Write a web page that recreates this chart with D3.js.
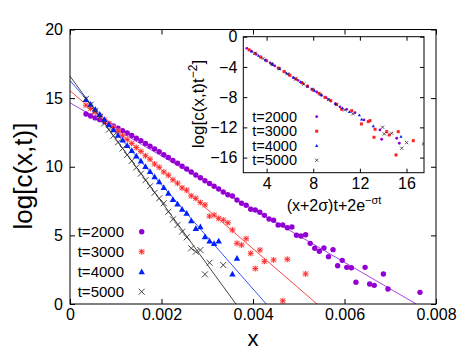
<!DOCTYPE html>
<html><head><meta charset="utf-8">
<script src="https://cdn.jsdelivr.net/npm/d3@7"></script>
<style>
html,body{margin:0;padding:0;background:#fff;}
svg text{font-family:"Liberation Sans",Arial,sans-serif;fill:#000;}
</style></head>
<body><svg id="c" width="463" height="354"></svg>
<script>
// ---------- main plot data ----------
const t2000_x = [0.00035,0.00045,0.00055,0.00065,0.00075,0.00085,0.00095,0.00105,0.00115,0.00125,0.00135,0.00145,0.00155,0.00165,0.00175,0.00185,0.00195,0.00205,0.00215,0.00225,0.00235,0.00245,0.00255,0.00265,0.00275,0.00285,0.00295,0.00305,0.00315,0.00325,0.00335,0.00345,0.00355,0.00365,0.00375,0.00385,0.00395,0.00405,0.00415,0.00425,0.00435,0.00445,0.00455,0.00465,0.00475,0.00485,0.00495,0.00505,0.00515,0.00525,0.00535,0.00545,0.00555,0.00565,0.00575,0.00585,0.00595,0.00605,0.00615,0.00625,0.00645,0.00655,0.00665,0.00685,0.00695,0.00765];
const t2000_y = [13.84,13.70,13.56,13.43,13.30,13.14,12.98,12.80,12.63,12.46,12.28,12.08,11.90,11.70,11.50,11.30,11.10,10.88,10.68,10.46,10.26,10.04,9.84,9.62,9.40,9.20,8.98,8.78,8.58,8.38,8.16,7.96,7.87,7.58,7.34,7.19,6.90,6.85,6.68,6.46,6.19,6.10,5.76,5.76,5.56,5.61,5.01,4.95,5.05,4.42,4.06,3.84,4.08,3.45,3.96,2.79,3.18,2.67,2.64,1.58,2.67,1.46,1.36,2.19,1.09,0.85,1.22];
const t3000_x = [0.00035,0.00045,0.00055,0.00065,0.00075,0.00085,0.00095,0.00105,0.00115,0.00125,0.00135,0.00145,0.00155,0.00165,0.00175,0.00185,0.00195,0.00205,0.00215,0.00225,0.00235,0.00245,0.00255,0.00265,0.00275,0.00285,0.00295,0.00305,0.00315,0.00325,0.00335,0.00345,0.00355,0.00365,0.00375,0.00385,0.00395,0.00405,0.00415,0.00425,0.00445,0.00465,0.00475,0.00515];
const t3000_y = [14.48,14.25,13.98,13.72,13.42,13.15,12.86,12.58,12.25,11.99,11.70,11.40,11.12,10.80,10.55,10.20,9.96,9.62,9.38,9.05,8.80,8.46,8.30,7.88,7.70,7.40,7.22,6.40,6.48,6.24,6.12,5.92,5.39,4.42,4.30,4.76,3.69,2.58,3.93,3.11,3.21,0.23,3.26,2.19];
const t4000_x = [0.00035,0.00045,0.00055,0.00065,0.00075,0.00085,0.00095,0.00105,0.00115,0.00125,0.00135,0.00145,0.00155,0.00165,0.00175,0.00185,0.00195,0.00205,0.00215,0.00225,0.00235,0.00245,0.00255,0.00265,0.00275,0.00285,0.00295,0.00305,0.00315,0.00325,0.00355,0.00365];
const t4000_y = [14.90,14.55,14.20,13.82,13.45,13.06,12.70,12.30,11.95,11.55,11.18,10.78,10.42,10.03,9.65,9.28,8.91,8.50,8.07,7.62,7.29,6.90,6.61,6.07,5.51,5.63,4.90,4.59,4.42,4.59,2.19,3.33];
const t5000_x = [0.00035,0.00045,0.00055,0.00065,0.00075,0.00085,0.00095,0.00105,0.00115,0.00125,0.00135,0.00145,0.00155,0.00165,0.00175,0.00185,0.00195,0.00205,0.00215,0.00225,0.00235,0.00245,0.00255,0.00265,0.00275,0.00285,0.00295,0.00305,0.00335];
const t5000_y = [14.95,14.52,14.06,13.62,13.16,12.70,12.26,11.78,11.33,10.86,10.43,9.95,9.50,9.02,8.58,8.11,7.70,7.34,6.72,6.17,5.76,5.27,4.86,4.06,3.81,3.93,2.16,3.01,2.84];

// fitted straight lines: log c = intercept + slope * x
const fitIntercept = [14.66, 15.54, 16.27, 16.60];
const fitSlope = [-1937, -2878, -3793, -4576];

const seriesNames = ["t=2000","t=3000","t=4000","t=5000"];
const colors = ["#9400d3","#ff2020","#0020ff","#303030"];
const lineColors = ["#a030e0","#ff3030","#2040ff","#303030"];

const xTicks = [0,0.002,0.004,0.006,0.008];
const yTicks = [0,5,10,15,20];

// ---------- inset data ----------
const in2000_X = [2.3,2.7,3.1,3.5,3.9,4.3,4.7,5.1,5.5,5.9,6.3,6.7,7.1,7.5,7.9,8.3,8.7,9.1,9.5,9.9,10.3,10.87,11.58,12.35,13.72,13.87,15.16,15.38];
const in2000_Y = [-1.54,-1.92,-2.32,-2.69,-3.09,-3.46,-3.87,-4.23,-4.64,-5.00,-5.41,-5.78,-6.18,-6.55,-6.95,-7.32,-7.74,-8.08,-8.52,-8.85,-9.30,-9.61,-10.05,-11.02,-12.34,-13.57,-13.44,-14.10];
const in3000_X = [2.5,3.0,3.5,4.0,4.5,5.0,5.5,6.0,6.5,7.0,7.5,8.0,8.5,9.0,9.5,10.0,10.44,11.30,12.13,12.72,12.87,13.30,13.21,14.30,14.52,15.29,15.10,16.58];
const in3000_Y = [-1.74,-2.21,-2.71,-3.18,-3.66,-4.15,-4.62,-5.11,-5.58,-6.07,-6.55,-7.05,-7.50,-8.02,-8.45,-8.96,-9.61,-9.79,-11.55,-11.24,-11.11,-12.25,-13.31,-12.57,-13.00,-12.57,-15.65,-13.76];
const in4000_X = [2.7,3.3,3.9,4.5,5.1,5.7,6.3,6.9,7.5,8.1,8.7,9.3,9.9,10.5,11.1,11.95,12.15,13.15,15.53];
const in4000_Y = [-1.93,-2.50,-3.08,-3.67,-4.24,-4.81,-5.41,-5.98,-6.56,-7.13,-7.72,-8.28,-8.88,-9.45,-9.95,-10.36,-10.93,-11.81,-13.23];
const in5000_X = [3.0,3.7,4.4,5.1,5.8,6.5,7.2,7.9,8.6,9.3,10.0,10.7,11.4,13.95,14.09,14.73,15.59,16.01,17.45];
const in5000_Y = [-2.20,-2.89,-3.57,-4.25,-4.92,-5.60,-6.28,-6.96,-7.64,-8.31,-8.99,-9.70,-10.20,-11.98,-12.87,-12.78,-14.76,-14.02,-14.19];

const inXTicks = [4,8,12,16];
const inYTicks = [0,-4,-8,-12,-16];

// ---------- drawing ----------
const svg = d3.select("#c");
const M = {l:70, t:29.5, r:436, b:304};
const x = d3.scaleLinear().domain([0,0.008]).range([M.l,M.r]);
const y = d3.scaleLinear().domain([0,20]).range([M.b,M.t]);

svg.append("defs").append("clipPath").attr("id","mclip")
  .append("rect").attr("x",M.l).attr("y",M.t).attr("width",M.r-M.l).attr("height",M.b-M.t);

function styleAxis(g, fs){
  g.select(".domain").remove();
  g.selectAll(".tick line").attr("stroke","#000").attr("stroke-width",1);
  g.selectAll(".tick text").style("font-size",fs+"px").attr("fill","#000");
}
const fmtX = d => d===0 ? "0" : d3.format(".3f")(d);
svg.append("g").attr("transform",`translate(0,${M.b})`)
  .call(d3.axisBottom(x).tickValues(xTicks).tickFormat(fmtX).tickSizeInner(-5).tickSizeOuter(0).tickPadding(5))
  .call(g=>styleAxis(g,16));
svg.append("g").attr("transform",`translate(0,${M.t})`)
  .call(d3.axisTop(x).tickValues(xTicks).tickFormat("").tickSizeInner(-5).tickSizeOuter(0))
  .call(g=>styleAxis(g,16));
svg.append("g").attr("transform",`translate(${M.l},0)`)
  .call(d3.axisLeft(y).tickValues(yTicks).tickSizeInner(-5).tickSizeOuter(0).tickPadding(7))
  .call(g=>styleAxis(g,16));
svg.append("g").attr("transform",`translate(${M.r},0)`)
  .call(d3.axisRight(y).tickValues(yTicks).tickFormat("").tickSizeInner(-5).tickSizeOuter(0))
  .call(g=>styleAxis(g,16));

// fit lines
const plot = svg.append("g").attr("clip-path","url(#mclip)");
fitIntercept.forEach((a,i)=>{
  const b = fitSlope[i];
  const xEnd = -a/b;
  plot.append("line").attr("x1",x(0)).attr("y1",y(a)).attr("x2",x(xEnd)).attr("y2",y(0))
    .attr("stroke",lineColors[i]).attr("stroke-width",0.9);
});

// symbol drawers
function drawSym(g, kind, cx, cy, s){
  const c = colors[kind];
  if(kind===0){
    g.append("circle").attr("cx",cx).attr("cy",cy).attr("r",2.7*s).attr("fill",c);
  } else if(kind===1){
    const r = 2.9*s;
    g.append("rect").attr("x",cx-r).attr("y",cy-r).attr("width",2*r).attr("height",2*r).attr("fill","#ffc0c0").attr("opacity",0.55);
    const p = `M${cx-r},${cy}L${cx+r},${cy}M${cx},${cy-r}L${cx},${cy+r}M${cx-r*0.8},${cy-r*0.8}L${cx+r*0.8},${cy+r*0.8}M${cx-r*0.8},${cy+r*0.8}L${cx+r*0.8},${cy-r*0.8}`;
    g.append("path").attr("d",p).attr("stroke",c).attr("stroke-width",0.9);
  } else if(kind===2){
    const h = 3.2*s;
    g.append("path").attr("d",`M${cx},${cy-h}L${cx+h},${cy+h*0.8}L${cx-h},${cy+h*0.8}Z`).attr("fill",c);
  } else {
    const r = 3*s;
    g.append("path").attr("d",`M${cx-r},${cy-r}L${cx+r},${cy+r}M${cx-r},${cy+r}L${cx+r},${cy-r}`)
      .attr("stroke",c).attr("stroke-width",0.9);
  }
}

const mainX = [t2000_x,t3000_x,t4000_x,t5000_x];
const mainY = [t2000_y,t3000_y,t4000_y,t5000_y];
mainX.forEach((xs,i)=>{
  const g = plot.append("g");
  xs.forEach((v,j)=> drawSym(g,i,x(v),y(mainY[i][j]),1));
});

// border
svg.append("rect").attr("x",M.l).attr("y",M.t).attr("width",M.r-M.l).attr("height",M.b-M.t)
  .attr("fill","none").attr("stroke","#000").attr("stroke-width",1);

// axis labels
svg.append("text").attr("x",253).attr("y",346).attr("text-anchor","middle").style("font-size","22px").text("x");
svg.append("text").attr("transform","translate(32,176) rotate(-90)").attr("text-anchor","middle").style("font-size","26px").text("log[c(x,t)]");

// main legend
const legG = svg.append("g");
seriesNames.forEach((n,i)=>{
  const cy = 231.7 + 20*i;
  legG.append("text").attr("x",124).attr("y",cy+5.5).attr("text-anchor","end").style("font-size","15px").text(n);
  drawSym(legG,i,141.7,cy,1);
});

// ---------- inset ----------
const I = {l:243.3, t:36.7, r:424, b:172.7};
const ix = d3.scaleLinear().domain([2,17.5]).range([I.l,I.r]);
const iy = d3.scaleLinear().domain([-18,0]).range([I.b,I.t]);
svg.append("rect").attr("x",I.l).attr("y",I.t).attr("width",I.r-I.l).attr("height",I.b-I.t).attr("fill","#fff");
svg.append("defs").append("clipPath").attr("id","iclip")
  .append("rect").attr("x",I.l).attr("y",I.t).attr("width",I.r-I.l).attr("height",I.b-I.t);

svg.append("g").attr("transform",`translate(0,${I.b})`)
  .call(d3.axisBottom(ix).tickValues(inXTicks).tickSizeInner(-4).tickSizeOuter(0).tickPadding(5))
  .call(g=>styleAxis(g,16));
svg.append("g").attr("transform",`translate(0,${I.t})`)
  .call(d3.axisTop(ix).tickValues(inXTicks).tickFormat("").tickSizeInner(-4).tickSizeOuter(0))
  .call(g=>styleAxis(g,16));
svg.append("g").attr("transform",`translate(${I.l},0)`)
  .call(d3.axisLeft(iy).tickValues(inYTicks).tickSizeInner(-4).tickSizeOuter(0).tickPadding(6))
  .call(g=>styleAxis(g,16));
svg.append("g").attr("transform",`translate(${I.r},0)`)
  .call(d3.axisRight(iy).tickValues(inYTicks).tickFormat("").tickSizeInner(-4).tickSizeOuter(0))
  .call(g=>styleAxis(g,16));

const inX = [in2000_X,in3000_X,in4000_X,in5000_X];
const inY = [in2000_Y,in3000_Y,in4000_Y,in5000_Y];
const iplot = svg.append("g").attr("clip-path","url(#iclip)");
function drawSmall(g,kind,cx,cy){
  const c = colors[kind];
  if(kind===0) g.append("circle").attr("cx",cx).attr("cy",cy).attr("r",1.4).attr("fill",c);
  else if(kind===1) g.append("rect").attr("x",cx-1.5).attr("y",cy-1.5).attr("width",3).attr("height",3).attr("fill",c);
  else if(kind===2) g.append("path").attr("d",`M${cx},${cy-1.6}L${cx+1.6},${cy+1.2}L${cx-1.6},${cy+1.2}Z`).attr("fill",c);
  else g.append("path").attr("d",`M${cx-1.6},${cy-1.6}L${cx+1.6},${cy+1.6}M${cx-1.6},${cy+1.6}L${cx+1.6},${cy-1.6}`).attr("stroke",c).attr("stroke-width",0.8);
}
inX.forEach((xs,i)=>{
  const g = iplot.append("g");
  xs.forEach((v,j)=> drawSmall(g,i,ix(v),iy(inY[i][j])));
});
svg.append("rect").attr("x",I.l).attr("y",I.t).attr("width",I.r-I.l).attr("height",I.b-I.t)
  .attr("fill","none").attr("stroke","#000").attr("stroke-width",1);

// inset legend
seriesNames.forEach((n,i)=>{
  const cy = 116.7 + 14.5*i;
  svg.append("text").attr("x",297).attr("y",cy+5).attr("text-anchor","end").style("font-size","14.5px").text(n);
  drawSmall(svg,i,316.7,cy);
});

// inset axis labels
const xl = svg.append("text").attr("x",334).attr("y",211).attr("text-anchor","middle").style("font-size","16px");
xl.append("tspan").text("(x+2σ)t+2e");
xl.append("tspan").attr("dy",-7).style("font-size","11px").text("−σt");
const yl = svg.append("text").attr("transform","translate(204,104) rotate(-90)").attr("text-anchor","middle").style("font-size","17px");
yl.append("tspan").text("log[c(x,t)t");
yl.append("tspan").attr("dy",-7).style("font-size","12px").text("−2");
yl.append("tspan").attr("dy",7).text("]");
</script></body></html>
